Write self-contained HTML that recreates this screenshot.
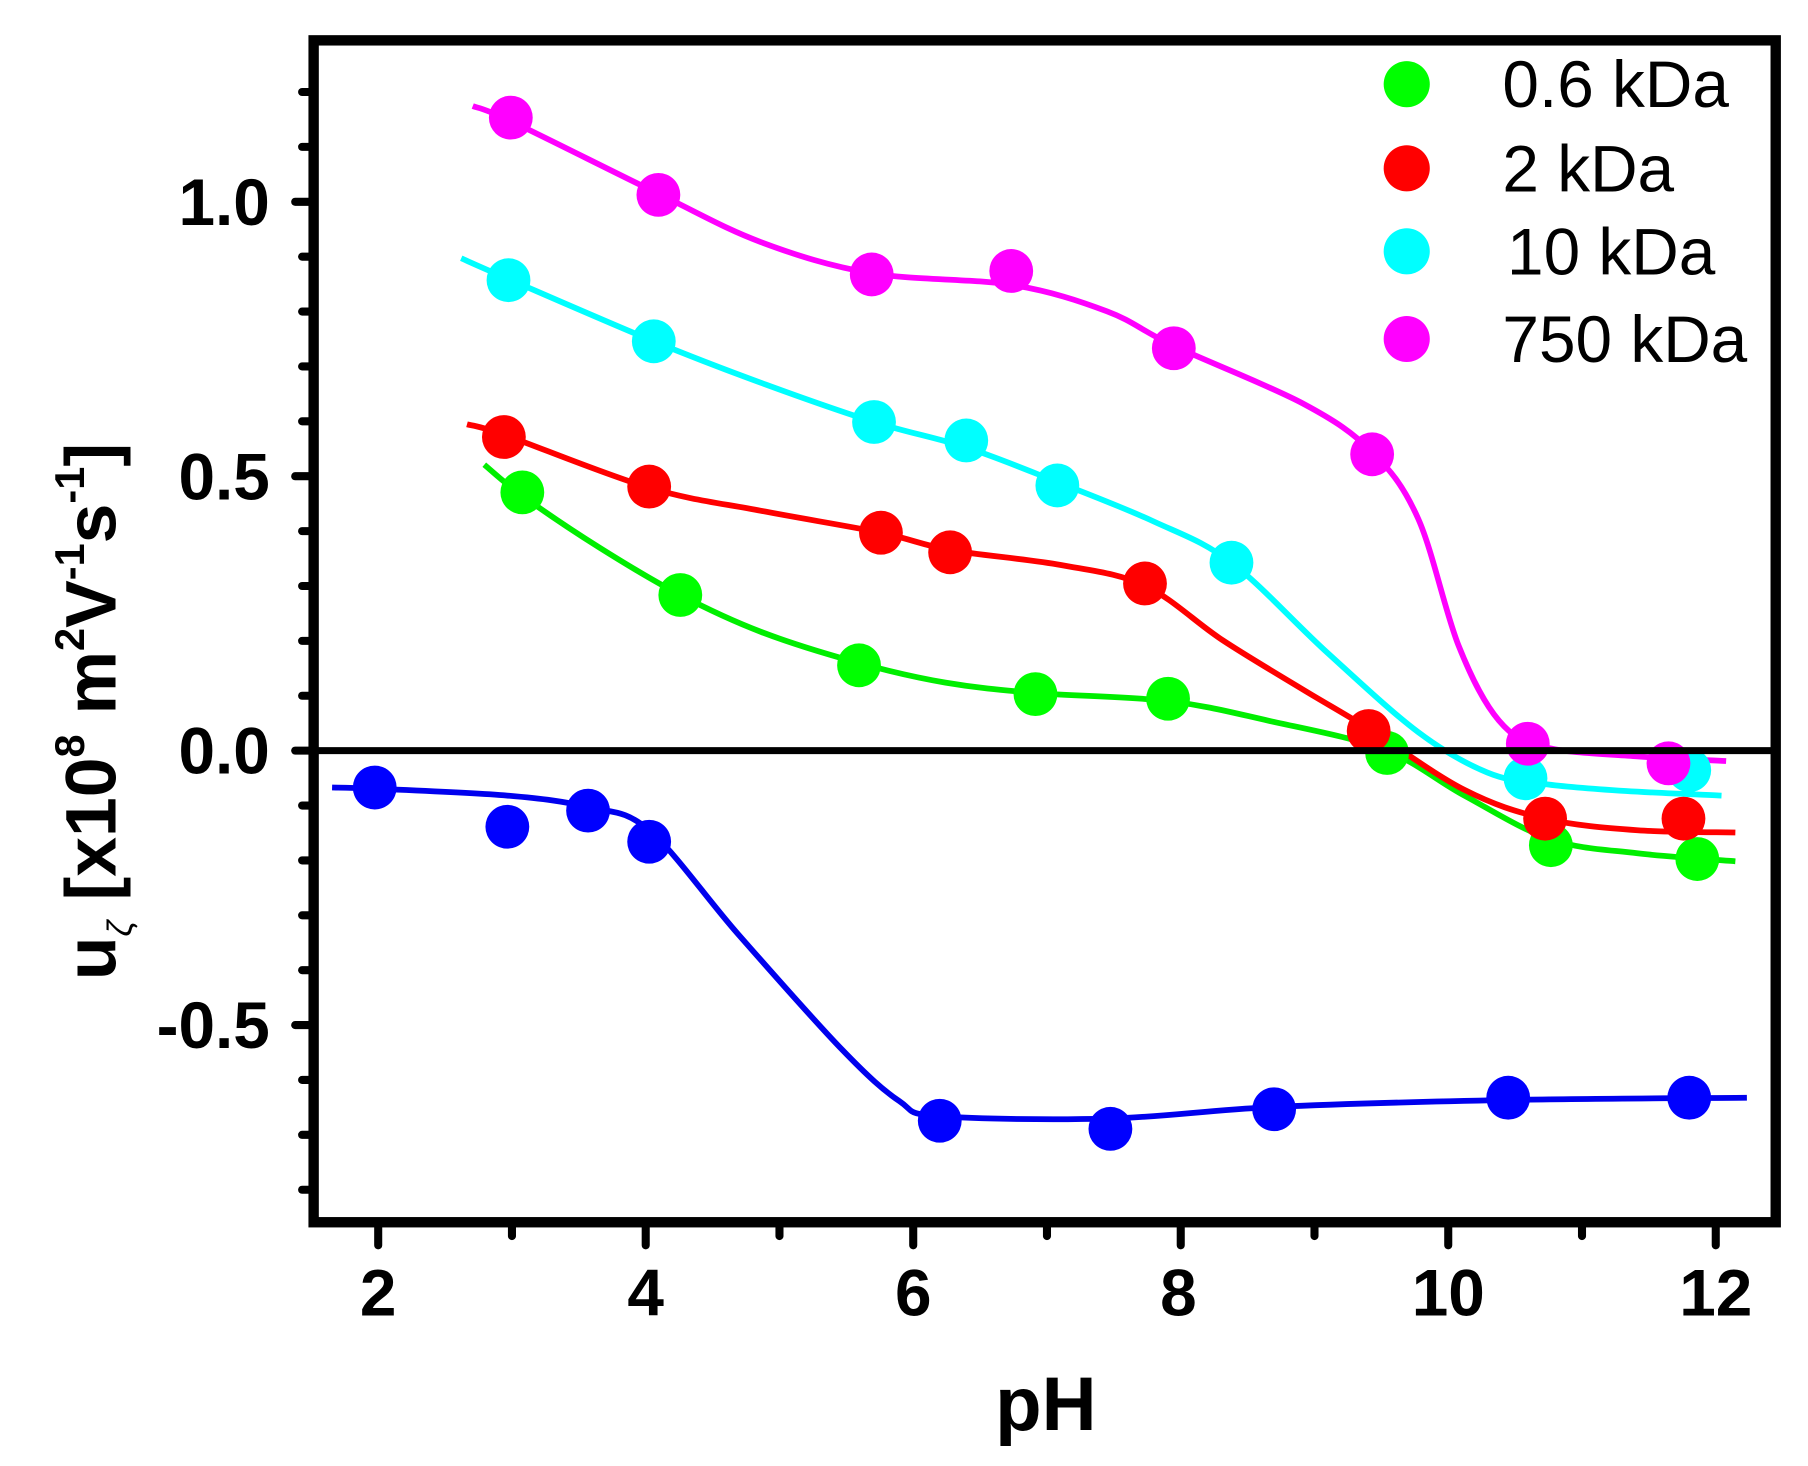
<!DOCTYPE html>
<html><head><meta charset="utf-8"><style>
html,body{margin:0;padding:0;background:#fff;}
svg{display:block;}
text{font-family:"Liberation Sans",Arial,sans-serif;}
</style></head><body>
<svg id="s" xmlns="http://www.w3.org/2000/svg" width="1808" height="1466" viewBox="0 0 1568 1271.4">
<rect x="0" y="0" width="1568" height="1272" fill="#fff"/>
<g id="ticks" stroke="#000" stroke-width="7" stroke-linecap="round"></g>
<g id="curves" fill="none" stroke-width="5"></g>
<g id="pts"></g>
<line x1="272" y1="651" x2="1540" y2="651" stroke="#000" stroke-width="6"/>
<rect x="272" y="35" width="1268" height="1025" fill="none" stroke="#000" stroke-width="9"/>
<g font-weight="bold" font-size="57" text-anchor="middle">
<text x="328" y="1141">2</text><text x="560" y="1141">4</text><text x="792" y="1141">6</text>
<text x="1022" y="1141">8</text><text x="1256" y="1141">10</text><text x="1488" y="1141">12</text>
</g>
<g font-weight="bold" font-size="57" text-anchor="end">
<text x="234" y="195">1.0</text><text x="234" y="433">0.5</text><text x="234" y="671">0.0</text><text x="234" y="909">-0.5</text>
</g>
<text x="907" y="1240" font-weight="bold" font-size="66" text-anchor="middle">pH</text>
<text transform="translate(100,850) rotate(-90)" font-weight="bold" font-size="62">u<tspan font-size="30" font-weight="normal" font-style="italic" dy="14">ζ</tspan><tspan dy="-14"> [x10</tspan><tspan font-size="36" dy="-27">8</tspan><tspan dy="27"> m</tspan><tspan font-size="36" dy="-27">2</tspan><tspan dy="27">V</tspan><tspan font-size="36" dy="-27">-1</tspan><tspan dy="27">s</tspan><tspan font-size="36" dy="-27">-1</tspan><tspan dy="27">]</tspan></text>
<g font-size="57">
<circle cx="1220" cy="73" r="20" fill="#00ff00"/><text x="1303" y="93">0.6 kDa</text>
<circle cx="1220" cy="146" r="20" fill="#ff0000"/><text x="1303" y="166">2 kDa</text>
<circle cx="1220" cy="218" r="20" fill="#00ffff"/><text x="1307" y="238">10 kDa</text>
<circle cx="1220" cy="294" r="20" fill="#ff00ff"/><text x="1303" y="314">750 kDa</text>
</g>
</svg>
<script>
var NS="http://www.w3.org/2000/svg";
function el(p,t,a){var e=document.createElementNS(NS,t);for(var k in a)e.setAttribute(k,a[k]);p.appendChild(e);return e;}
var T=document.getElementById('ticks');
for(var i=-8;i<=12;i++){var y=651-i*47.6;var maj=(i%5==0);el(T,'line',{x1:maj?256:262,y1:y,x2:272,y2:y});}
for(var p=2;p<=12;p++){var x=328+(p-2)*116;var maj=(p%2==0);el(T,'line',{x1:x,y1:1060,x2:x,y2:maj?1080:1072});}
function cr(P){var d="M"+P[0][0]+","+P[0][1];for(var i=0;i<P.length-1;i++){var p0=P[i-1]||P[i],p1=P[i],p2=P[i+1],p3=P[i+2]||P[i+1];
d+=" C"+(p1[0]+(p2[0]-p0[0])/6)+","+(p1[1]+(p2[1]-p0[1])/6)+" "+(p2[0]-(p3[0]-p1[0])/6)+","+(p2[1]-(p3[1]-p1[1])/6)+" "+p2[0]+","+p2[1];}return d;}
var S=[
["#00ee00",[[420,403],[453,430],[520,475],[590,516],[660,548],[745,575],[820,592],[898,601],[1013,608],[1100,625],[1200,650],[1270,690],[1345,728],[1420,740],[1505,747]],
[[453,427],[590,516],[745,577],[898,602],[1013,606],[1203,653],[1345,733],[1472,745]],"#00ff00"],
["#ff0000",[[405,368],[437,377],[563,423],[660,443],[764,462],[824,477],[920,490],[993,508],[1060,555],[1130,598],[1187,632],[1270,685],[1340,710],[1420,720],[1505,722]],
[[437,379],[563,422],[764,462],[824,479],[993,506],[1187,634],[1340,710],[1460,710]],"#ff0000"],
["#00ffff",[[400,224],[441,242],[567,296],[660,332],[758,366],[838,388],[917,418],[1000,452],[1068,488],[1150,565],[1230,635],[1290,670],[1340,680],[1410,686],[1493,690]],
[[441,243],[567,296],[758,366],[838,382],[917,421],[1068,488],[1323,675],[1465,668]],"#00ffff"],
["#ff00ff",[[410,92],[443,105],[571,168],[660,210],[756,237],[877,247],[960,270],[1018,300],[1130,350],[1190,392],[1230,450],[1265,560],[1300,625],[1340,648],[1420,656],[1497,660]],
[[443,102],[571,169],[756,238],[877,235],[1018,302],[1190,394],[1325,645],[1447,662]],"#ff00ff"],
["#0000ee",[[288,683],[325,684],[440,690],[510,700],[563,720],[640,810],[730,910],[780,955],[815,968],[963,970],[1105,960],[1308,954],[1515,952]],
[[325,683],[440,717],[510,703],[563,730],[815,972],[963,979],[1105,962],[1308,952],[1465,952]],"#0000ff"]];
var C=document.getElementById('curves'),Pg=document.getElementById('pts');
S.forEach(function(s){el(C,'path',{d:cr(s[1]),stroke:s[0]});});
S.forEach(function(s){s[2].forEach(function(q){el(Pg,'circle',{cx:q[0],cy:q[1],r:19,fill:s[3]});});});
</script>
</body></html>
